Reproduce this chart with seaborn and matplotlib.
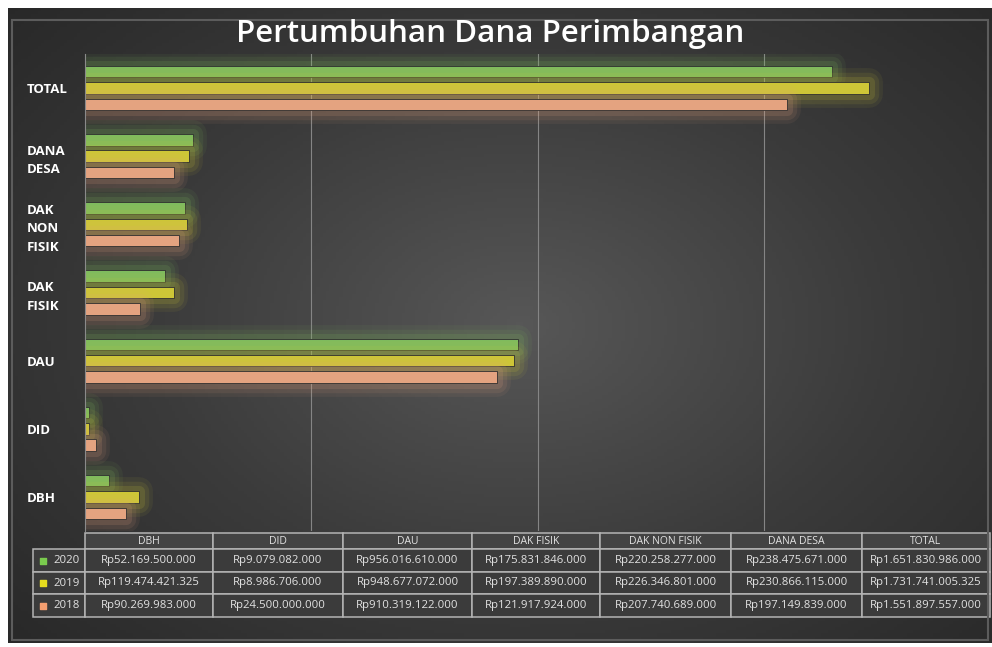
import numpy as np
import pandas as pd
import matplotlib
matplotlib.use('Agg')
import matplotlib.pyplot as plt
import seaborn as sns
from matplotlib import patheffects as pe
from matplotlib.colors import LinearSegmentedColormap
from matplotlib.patches import Rectangle

plt.rcParams['font.family'] = ['Open Sans', 'DejaVu Sans']

categories = ['DBH', 'DID', 'DAU', 'DAK FISIK', 'DAK NON FISIK', 'DANA DESA', 'TOTAL']
cat_labels = ['DBH', 'DID', 'DAU', 'DAK\nFISIK', 'DAK\nNON\nFISIK', 'DANA\nDESA', 'TOTAL']
years = ['2020', '2019', '2018']
v2020 = [52169500000, 9079082000, 956016610000, 175831846000, 220258277000, 238475671000, 1651830986000]
v2019 = [119474421325, 8986706000, 948677072000, 197389890000, 226346801000, 230866115000, 1731741005325]
v2018 = [90269983000, 24500000000, 910319122000, 121917924000, 207740689000, 197149839000, 1551897557000]
colors = {'2020': '#7acb4e', '2019': '#e6dc1e', '2018': '#f49e70'}

series = {'2020': v2020, '2019': v2019, '2018': v2018}
df = pd.DataFrame([(c, y, v) for y in years for c, v in zip(categories, series[y])],
                  columns=['kategori', 'tahun', 'nilai'])
order = categories[::-1]


def rp(v):
    return 'Rp' + f'{v:,}'.replace(',', '.')


W, H = 992, 647


def box(l, t, r, b):
    return [l / W, 1 - b / H, (r - l) / W, (b - t) / H]


fig = plt.figure(figsize=(W / 100, H / 100), dpi=100)
fig.patch.set_facecolor('white')

# dark background panel with soft radial light
bg = fig.add_axes(box(8, 8, 992, 643))
yy, xx = np.mgrid[0:1:200j, 0:1:300j]
d = np.sqrt(((xx - 0.52) / 0.75) ** 2 + ((yy - 0.5) / 0.8) ** 2)
cmap = LinearSegmentedColormap.from_list('panel', ['#575757', '#3b3b3b', '#262626'])
bg.imshow(np.clip(d, 0, 1), cmap=cmap, aspect='auto', extent=[0, 1, 0, 1], vmin=0, vmax=1)
bg.axis('off')
fig.patches.append(Rectangle((12 / W, 1 - 640 / H), 976 / W, 620 / H, transform=fig.transFigure,
                             fill=False, ec='#5c5c5c', lw=1.5, zorder=1))

ax = fig.add_axes(box(85, 54, 990, 531))
sns.barplot(data=df, y='kategori', x='nilai', hue='tahun', order=order, hue_order=years,
            palette=colors, orient='h', width=0.72, gap=0.3, ax=ax, legend=False,
            edgecolor='#2e2e2e', linewidth=0.6)

for p in ax.patches:
    c = p.get_facecolor()
    glow = [pe.Stroke(linewidth=w, foreground=c, alpha=a, joinstyle='round')
            for w, a in [(20, 0.07), (14, 0.1), (8, 0.15)]]
    p.set_path_effects(glow + [pe.Normal()])

ax.set_facecolor('none')
ax.set_xlim(0, 2e12)
ax.set_xticks([0.5e12, 1e12, 1.5e12])
ax.xaxis.grid(True, color='#858585', lw=0.8)
ax.yaxis.grid(False)
ax.set_axisbelow(True)
ax.tick_params(axis='x', length=0, labelbottom=False)
ax.set_xlabel('')
ax.set_ylabel('')
ax.set_yticks(range(len(order)))
ax.set_yticklabels(cat_labels[::-1], ha='left', color='white', fontweight='bold',
                   fontsize=9.5, linespacing=1.55)
ax.tick_params(axis='y', length=0, pad=42)
for s in ['top', 'right', 'bottom']:
    ax.spines[s].set_visible(False)
ax.spines['left'].set_color('#8a8a8a')

# data table under the chart
tax = fig.add_axes(box(33, 533, 990, 617))
tax.axis('off')
cell_text = [[y] + [rp(v) for v in series[y]] for y in years]
col_w = [52, 128, 130, 129, 128, 131, 131, 128]
tbl = tax.table(cellText=cell_text, colLabels=[''] + categories, bbox=[0, 0, 1, 1],
                colWidths=[w / sum(col_w) for w in col_w], cellLoc='center')
tbl.auto_set_font_size(False)
row_h = [16, 23, 22, 23]
for (r, c), cell in tbl.get_celld().items():
    cell.set_height(row_h[r])
    cell.set_facecolor('#3b3b3b')
    cell.set_edgecolor('#b4b4b4')
    cell.set_linewidth(1.1)
    cell.get_text().set_color('#e2e2e2')
    cell.get_text().set_fontsize(7.5 if r == 0 else 8.2)
    if c == 0:
        cell.get_text().set_ha('right')
        cell.PAD = 0.1
tbl[(0, 0)].visible_edges = ''
tbl[(0, 0)].set_facecolor('none')
for c in range(1, 8):
    tbl[(0, c)].set_facecolor('#434343')

total_h = sum(row_h)
for i, y in enumerate(years):
    yc = 1 - (row_h[0] + sum(row_h[1:i + 1]) + row_h[i + 1] / 2) / total_h
    tax.scatter([10 / 957], [yc], marker='s', s=16, color=colors[y], transform=tax.transAxes,
                zorder=5, clip_on=False)

fig.text(0.494, 1 - 34 / H, 'Pertumbuhan Dana Perimbangan', ha='center', va='center',
         color='white', fontsize=22.5, fontweight='semibold')

fig.savefig('out.png', dpi=100, facecolor='white')
